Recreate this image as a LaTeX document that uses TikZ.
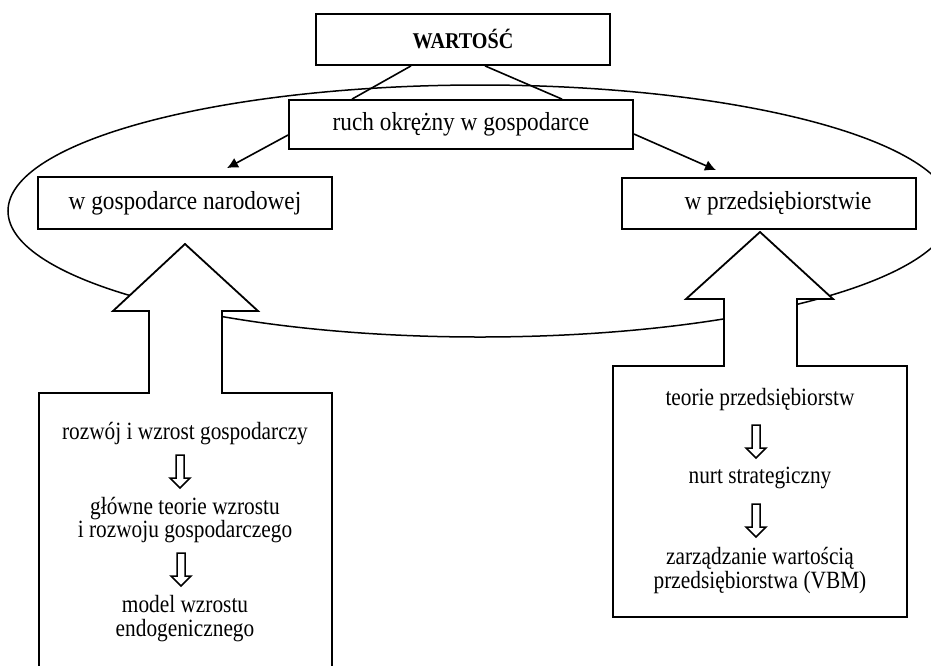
\documentclass[tikz,border=0pt]{standalone}
\usepackage{fontspec}
\setmainfont{Liberation Serif}
\newfontfamily\upfont[FakeStretch=0.895]{Liberation Serif}
\newfontfamily\lowfont[FakeStretch=0.86]{Liberation Serif}
\usetikzlibrary{arrows.meta}
\begin{document}
\begin{tikzpicture}[x=1pt,y=-1pt,
  boxline/.style={line width=1.8pt},
  topbox/.style={draw, boxline, inner sep=0pt, font=\upfont\fontsize{26}{28}\selectfont},
  lowtext/.style={align=center, inner sep=0pt, font=\lowfont\fontsize{24.8}{23.5}\selectfont},
  conn/.style={line width=1.6pt},
  arr/.style={conn, -{Latex[length=11pt,width=11pt]}},
  bigarrow/.style={draw, fill=white, boxline, line join=miter},
  pics/downarr/.style={code={
    \draw[fill=white, line width=1.5pt, line join=miter]
      (-4,0) -- (4,0) -- (4,23) -- (10,23) -- (0,33) -- (-10,23) -- (-4,23) -- cycle;}}
]
\useasboundingbox (0,0) rectangle (931,665);
\begin{scope}
\clip (0,0) rectangle (931,665);
% ellipse (circular flow)
\draw[line width=1.5pt] (480,211) ellipse [x radius=472, y radius=126];
% big arrows with boxes
\draw[bigarrow] (185,244) -- (258,311) -- (222,311) -- (222,393) -- (332,393)
  -- (332,690) -- (39,690) -- (39,393) -- (149,393) -- (149,311) -- (113,311) -- cycle;
\draw[bigarrow] (760,232) -- (833,299) -- (797,299) -- (797,366) -- (907,366)
  -- (907,617) -- (613,617) -- (613,366) -- (724,366) -- (724,299) -- (686,299) -- cycle;
\end{scope}

% top boxes
\node[topbox, minimum width=294pt, minimum height=51pt,
  font=\upfont\fontsize{22.5}{24}\selectfont\bfseries] (war) at (463,39.5) {WARTOŚĆ};
\node[topbox, fill=white, minimum width=344pt, minimum height=49pt] (ruch) at (461,124.5) {ruch okrężny w gospodarce};
\node[topbox, fill=white, minimum width=294pt, minimum height=52pt] (gn) at (185,203) {w gospodarce narodowej};
\node[topbox, fill=white, minimum width=294pt, minimum height=51pt] (wp) at (769,203.5) {\hspace*{18pt}w przedsiębiorstwie};

% connectors
\draw[conn] ([xshift=-52pt]war.south) -- ([xshift=-109pt]ruch.north);
\draw[conn] ([xshift=22pt]war.south) -- ([xshift=101pt]ruch.north);
\draw[arr] ([yshift=-10.5pt]ruch.west) -- ([xshift=42pt,yshift=8pt]gn.north);
\draw[arr] ([yshift=-9.5pt]ruch.east) -- ([xshift=-53pt,yshift=7pt]wp.north);

% left column texts
\node[lowtext] (l1) at (185,434) {rozwój i wzrost gospodarczy};
\pic at (180,455) {downarr};
\node[lowtext] (l2) at (185,520) {główne teorie wzrostu\\i rozwoju gospodarczego};
\pic at (181,553) {downarr};
\node[lowtext] (l3) at (185,618.5) {model wzrostu\\endogenicznego};

% right column texts
\node[lowtext] (r1) at (760,400) {teorie przedsiębiorstw};
\pic at (756,425) {downarr};
\node[lowtext] (r2) at (760,478) {nurt strategiczny};
\pic at (756,504) {downarr};
\node[lowtext] (r3) at (760,570.5) {zarządzanie wartością\\przedsiębiorstwa (VBM)};
\end{tikzpicture}
\end{document}
